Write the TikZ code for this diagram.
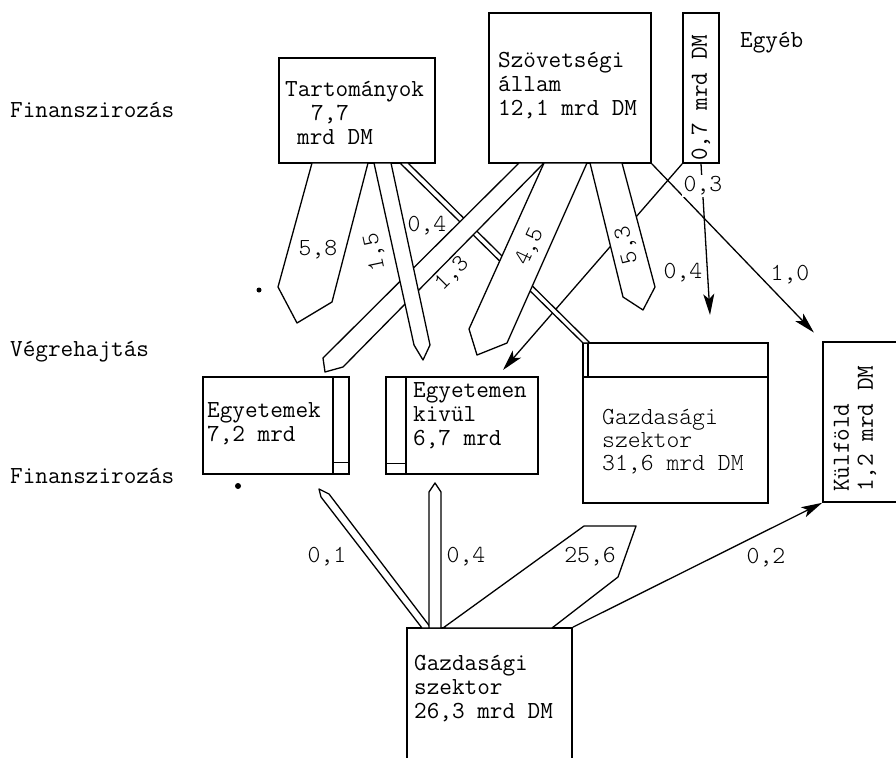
\documentclass[tikz,border=0pt]{standalone}
\usetikzlibrary{arrows.meta}

\newcommand{\typefont}{\fontsize{24.5}{24}\selectfont\ttfamily}
\newcommand{\lightfont}{\fontsize{24.5}{23}\selectfont\ttfamily\fontseries{l}\selectfont}

\begin{document}
\begin{tikzpicture}[
  x=1pt, y=-1pt,
  box/.style={draw, line width=1.6pt, inner sep=0pt},
  part/.style={line width=1.6pt},
  txt/.style={font=\typefont, align=left, anchor=west, inner sep=0pt},
  num/.style={font=\lightfont, inner sep=0pt},
  flow/.style={draw, fill=white, line width=1.3pt, line join=round},
  link/.style={line width=1.3pt, -{Stealth[length=21pt,width=11pt,inset=5pt]}},
  spot/.style={fill, circle, inner sep=0pt, minimum size=#1}
]
\useasboundingbox (0,0) rectangle (896,757);
\clip (0,0) rectangle (896,757);

% boxes
\node[box, minimum width=156pt, minimum height=105pt] (tart) at (357,110.5) {};
\node[box, minimum width=162pt, minimum height=150pt] (szov) at (570,88) {};
\node[box, minimum width=36pt, minimum height=150pt] (oth) at (701,88) {};
\node[box, minimum width=146pt, minimum height=97pt] (egy) at (276,425.5) {};
\node[box, minimum width=152pt, minimum height=97pt] (egyk) at (462,425.5) {};
\node[box, minimum width=185pt, minimum height=160pt] (gazd) at (675.5,423) {};
\node[box, minimum width=100pt, minimum height=160pt] (kulf) at (873,422) {};
\node[box, minimum width=165pt, minimum height=172pt] (gazdb) at (489.5,714) {};

\draw[part] (333,377) -- (333,474) (333,462.5) -- (349,462.5);
\draw[part] (406,377) -- (406,474) (386,463.5) -- (406,463.5);
\draw[part] (583,377) -- (768,377) (588,343) -- (588,377);

% box texts
\node[txt] (tartT) at (285,113) {Tartományok\\\hspace*{26pt}7,7\\\hspace*{12pt}mrd DM};
\node[txt] (szovT) at (498,86) {Szövetségi\\állam\\12,1 mrd DM};
\node[txt, rotate=90] (othT) at (701,161) {0,7 mrd DM};
\node[txt] (egyeb) at (740,43) {Egyéb};
\node[txt] (egyT) at (207,423.5) {Egyetemek\\7,2 mrd};
\node[txt] (egykT) at (413,416) {Egyetemen\\kivül\\6,7 mrd};
\node[txt, font=\lightfont] (gazdT) at (602,442) {Gazdasági\\szektor\\31,6 mrd DM};
\node[txt, rotate=90] (kulfT) at (855,492) {Külföld\\1,2 mrd DM};
\node[txt] (gazdbT) at (414,689) {Gazdasági\\szektor\\26,3 mrd DM};

% row labels
\node[txt] (fin1) at (10,110) {Finanszirozás};
\node[txt] (veg) at (10,352) {Végrehajtás};
\node[txt] (fin2) at (10,476) {Finanszirozás};

% thin flow under the bands
\coordinate (e03) at (503,370);
\coordinate (e04) at (710,315);
\draw[link] (oth.south west) -- (e03);

% wide flows
\draw[flow] (400,163) -- (583,343) -- (590,343) -- (408,163) -- cycle;
\draw[flow] (519,163) -- (323,358) -- (325,372) -- (343,367) -- (544,163) -- cycle;
\draw[flow] (374,163) -- (414,345) -- (423,360) -- (430,345) -- (391,163) -- cycle;
\draw[flow] (544,163) -- (469,329) -- (477,355) -- (507,343) -- (587,163) -- cycle;
\draw[flow] (590,163) -- (623,297) -- (643,310) -- (655,287) -- (622,163) -- cycle;
\draw[flow] (312,163) -- (278,287) -- (297,323) -- (332,302) -- (368,163) -- cycle;
\draw[flow] (422,628) -- (321,497) -- (319,489) -- (329,494) -- (431,628) -- cycle;
\draw[flow] (429,628) -- (429,492) -- (435,483) -- (441,492) -- (441,628) -- cycle;
\draw[flow] (443,628) -- (584,526) -- (636,526) -- (618,577) -- (552,628) -- cycle;

% thin flows
\draw[link] (oth.south) -- (e04);
\draw[link, shorten >=12pt] (szov.south east) -- (kulf.north west);
\draw[link] (gazdb.north east) -- (kulf.south west);

% amounts
\node[num] (n58) at (318,250) {5,8};
\node[num, rotate=102] (n15) at (375,252) {1,5};
\node[num] (n04a) at (427,226) {0,4};
\node[num, rotate=45] (n13) at (452,274) {1,3};
\node[num, rotate=65] (n45) at (530,247) {4,5};
\node[num, rotate=104] (n53) at (627,245) {5,3};
\node[num, fill=white, inner sep=2pt] (n03) at (703,186) {0,3};
\node[num] (n04b) at (683,273) {0,4};
\node[num] (n10) at (790,275) {1,0};
\node[num] (n01) at (327,557) {0,1};
\node[num] (n04c) at (466,557) {0,4};
\node[num] (n256) at (590,557) {25,6};
\node[num] (n02) at (766,558) {0,2};

\node[spot=5pt] (s1) at (259,290) {};
\node[spot=6pt] (s2) at (238,486) {};

\end{tikzpicture}
\end{document}
